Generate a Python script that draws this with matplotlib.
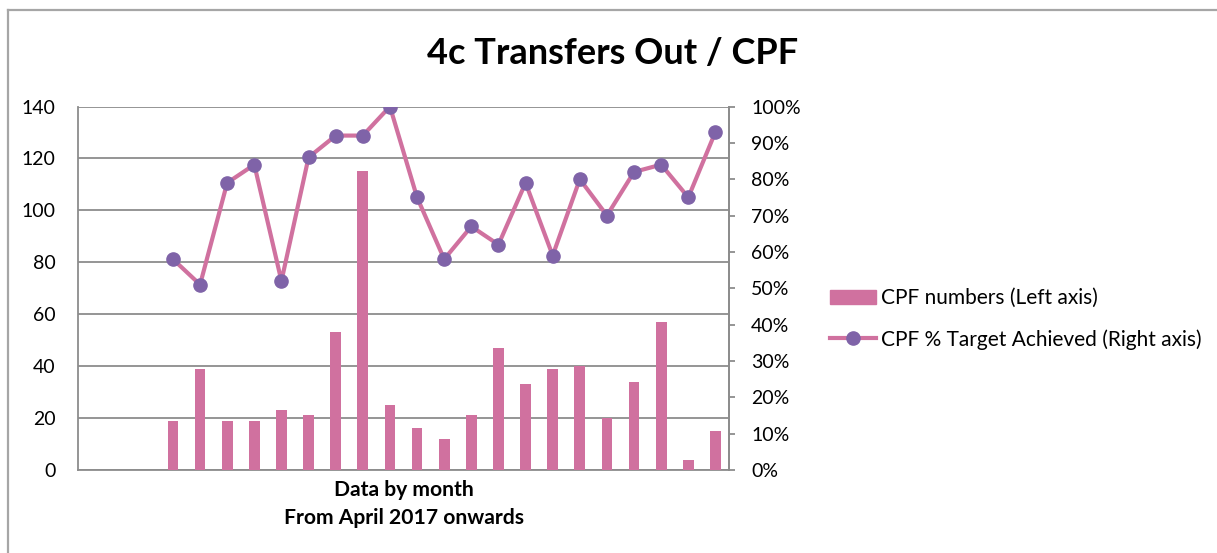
import numpy as np
import matplotlib
matplotlib.use("Agg")
import matplotlib.pyplot as plt
from matplotlib.lines import Line2D
from matplotlib.patches import Patch
from matplotlib.ticker import FuncFormatter, MultipleLocator

# ---- data ----
title = "4c Transfers Out / CPF"
x_label = "Data by month\nFrom April 2017 onwards"
bar_label = "CPF numbers (Left axis)"
line_label = "CPF % Target Achieved (Right axis)"
n_categories = 24
n_blank_leading = 3
cpf_numbers = [19, 39, 19, 19, 23, 21, 53, 115, 25, 16, 12, 21, 47, 33, 39, 40, 20, 34, 57, 4, 15]
cpf_pct = [58, 51, 79, 84, 52, 86, 92, 92, 100, 75, 58, 67, 62, 79, 59, 80, 70, 82, 84, 75, 93]

bar_color = "#D0719F"
marker_color = "#7F63A8"
grid_color = "#8C8C8C"

plt.rcParams['font.family'] = ['Lato', 'DejaVu Sans']

W, H = 1217, 553
fig = plt.figure(figsize=(W / 100, H / 100), dpi=100)

# chart-area border
fig.add_artist(Line2D([7.5 / W, 7.5 / W], [0, 1 - 9.5 / H], color="#A6A6A6", lw=1.6))
fig.add_artist(Line2D([7.5 / W, 1], [1 - 9.5 / H, 1 - 9.5 / H], color="#A6A6A6", lw=1.6))

left, right, top, bottom = 78, 729, 106.5, 470
ax = fig.add_axes([left / W, (H - bottom) / H, (right - left) / W, (bottom - top) / H])
ax2 = ax.twinx()

x = np.arange(len(cpf_numbers)) + n_blank_leading

ax.bar(x, cpf_numbers, width=0.4, color=bar_color, zorder=3)
ax.set_xlim(-0.5, n_categories - 0.5)
ax.set_ylim(0, 140)
ax.yaxis.set_major_locator(MultipleLocator(20))
ax.set_xticks([])
ax.grid(axis='y', color=grid_color, lw=1.3, zorder=0)
ax.set_axisbelow(True)
ax.spines['top'].set_visible(False)
for s in ['left', 'bottom', 'right']:
    ax.spines[s].set_color(grid_color)
    ax.spines[s].set_linewidth(1.3)
ax.tick_params(axis='y', length=0, pad=16, labelsize=14, colors='black')

ax2.plot(x, cpf_pct, color=bar_color, lw=3, marker='o', markersize=9.5,
         markerfacecolor=marker_color, markeredgecolor=marker_color, zorder=4)
ax2.set_ylim(0, 100)
ax2.yaxis.set_major_locator(MultipleLocator(10))
ax2.yaxis.set_major_formatter(FuncFormatter(lambda v, p: f"{int(round(v))}%"))
ax2.tick_params(axis='y', length=4.5, width=1.3, color=grid_color, pad=11.5, labelsize=14, labelcolor='black')
for s in ['top', 'left', 'bottom']:
    ax2.spines[s].set_visible(False)
ax2.spines['right'].set_color(grid_color)
ax2.spines['right'].set_linewidth(1.3)

ax.set_xlabel(x_label, fontsize=15.2, fontweight='bold', labelpad=7, linespacing=1.5)

fig.text(613 / W, 1 - 54 / H, title, fontsize=26, fontweight='bold', ha='center', va='center')

handles = [Patch(facecolor=bar_color, edgecolor=bar_color),
           Line2D([], [], color=bar_color, lw=3, marker='o', markersize=9.5,
                  markerfacecolor=marker_color, markeredgecolor=marker_color)]
fig.legend(handles, [bar_label, line_label], loc='center left',
           bbox_to_anchor=(822 / W, 1 - 319 / H), frameon=False, fontsize=15,
           handlelength=2.2, handletextpad=0.25, labelspacing=1.0, borderaxespad=0)

fig.savefig("out.png", dpi=100)
